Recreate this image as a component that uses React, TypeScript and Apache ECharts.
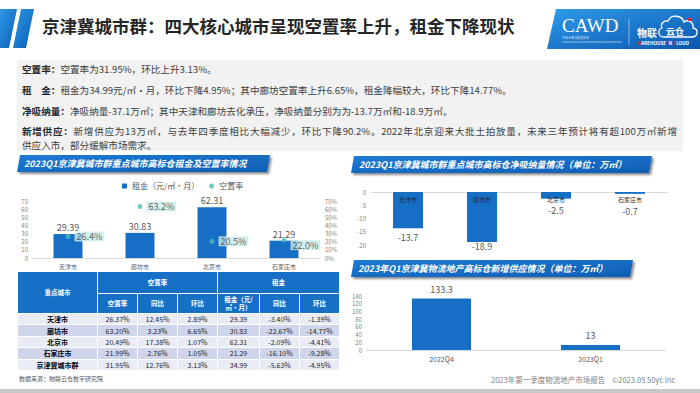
import React, { useEffect, useRef } from 'react';
import * as echarts from 'echarts';

const FONT = '"Noto Sans CJK SC", "Noto Sans", sans-serif';

// ---------- data ----------
const cities = ['天津市', '廊坊市', '北京市', '石家庄市'];
const rent = [29.39, 30.83, 62.31, 21.29];
const vacancy = [26.4, 63.2, 20.5, 22.0];
const netAbsorption = [-13.7, -18.9, -2.5, -0.7];
const supplyQuarters = ['2022Q4', '2023Q1'];
const newSupply = [133.3, 13];

const tableCities = ['天津市', '廊坊市', '北京市', '石家庄市', '京津冀城市群'];
const tableVacancy = ['26.37%', '63.20%', '20.49%', '21.99%', '31.95%'];
const tableVacancyYoY = ['12.45%', '3.23%', '17.38%', '2.76%', '12.76%'];
const tableVacancyQoQ = ['2.89%', '6.65%', '1.07%', '1.05%', '3.13%'];
const tableRent = ['29.39', '30.83', '62.31', '21.29', '34.99'];
const tableRentYoY = ['-3.40%', '-22.67%', '-2.09%', '-16.10%', '-5.63%'];
const tableRentQoQ = ['-1.39%', '-14.77%', '-4.41%', '-9.28%', '-4.95%'];
const tableGroupHeaders = ['空置率', '租金'];
const tableSubHeaders = ['空置率', '同比', '环比', '租金（元/\n㎡·月）', '同比', '环比'];

const summaryLines = [
  { label: '空置率：', text: '空置率为31.95%，环比上升3.13%。' },
  { label: '租　金：', text: '租金为34.99元/㎡·月，环比下降4.95%；其中廊坊空置率上升6.65%，租金降幅较大，环比下降14.77%。' },
  { label: '净吸纳量：', text: '净吸纳量-37.1万㎡；其中天津和廊坊去化承压，净吸纳量分别为为-13.7万㎡和-18.9万㎡。' },
  { label: '新增供应：', text: '新增供应为13万㎡，与去年四季度相比大幅减少，环比下降90.2%。2022年北京迎来大批土拍放量，未来三年预计将有超100万㎡新增' },
  { label: '', text: '供应入市，部分缓解市场需求。' },
];

const BLUE = '#166fc5';

const cloudD =
  'M664 37 L692 37 C698 37 699 29 693 28 C694 22 688 19 684 22 C682 15 671 14 668 21 C663 20 660 25 662 28 C657 30 658 37 664 37 Z';
echarts.graphic.registerShape('cloud', echarts.graphic.extendPath(cloudD, {}));

const grad = (c1: string, c2: string) => ({
  type: 'linear', x: 0, y: 0, x2: 1, y2: 1,
  colorStops: [{ offset: 0, color: c1 }, { offset: 1, color: c2 }],
});

const banner = (pts: number[][], tx: number, ty: number, text: string) => [
  {
    type: 'polygon',
    shape: { points: pts },
    style: {
      fill: grad('#1d7ad4', '#0f5fb4'),
      shadowBlur: 2, shadowOffsetX: 2, shadowOffsetY: 2, shadowColor: 'rgba(0,0,0,0.45)',
    },
  },
  {
    type: 'text', x: tx, y: ty,
    style: {
      text, fill: '#fff', fontSize: 9, fontWeight: 'bold', fontStyle: 'italic',
      fontFamily: FONT, verticalAlign: 'middle',
    },
  },
];

const axisLabelSmall = { fontSize: 6, color: '#7f7f7f', fontFamily: FONT };

const baseGraphic: any[] = [
  // header stripes
  { type: 'polygon', shape: { points: [[0, 9], [17, 9], [9, 48], [0, 48]] }, style: { fill: grad('#2d98e8', '#0b5db3') } },
  { type: 'polygon', shape: { points: [[21, 9], [34, 9], [26, 48], [13, 48]] }, style: { fill: grad('#2d98e8', '#0b5db3') } },
  {
    type: 'text', x: 42, y: 25,
    style: {
      text: '京津冀城市群：四大核心城市呈现空置率上升，租金下降现状',
      fontSize: 17.5, fontWeight: 'bold', fill: '#262626', fontFamily: FONT, verticalAlign: 'middle',
    },
  },
  // logo
  { type: 'polygon', shape: { points: [[556, 9], [700, 9], [700, 49], [547, 49]] }, style: { fill: grad('#2f9aea', '#0a58ae') } },
  {
    type: 'text', x: 562, y: 25,
    style: { text: 'CAWD', fontSize: 19, fill: '#fff', fontFamily: '"Liberation Serif", serif', verticalAlign: 'middle' },
  },
  { type: 'text', x: 562, y: 38, style: { text: '中国仓储与配送协会', fontSize: 3, fill: 'rgba(255,255,255,0.85)', fontFamily: FONT, verticalAlign: 'middle' } },
  { type: 'text', x: 562, y: 41.5, style: { text: 'CHINA ASSOCIATION OF WAREHOUSES AND DISTRIBUTION', fontSize: 2.2, fill: 'rgba(255,255,255,0.8)', fontFamily: FONT, verticalAlign: 'middle' } },
  { type: 'line', shape: { x1: 629, y1: 19, x2: 629, y2: 45 }, style: { stroke: 'rgba(255,255,255,0.6)', lineWidth: 0.8 } },
  { type: 'cloud', x: 0, y: 0, style: { fill: 'none', stroke: '#fff', lineWidth: 1.3 } },
  { type: 'rect', shape: { x: 688, y: 18, width: 3, height: 3 }, style: { fill: '#e0282f' } },
  { type: 'text', x: 637, y: 32, style: { text: '物联', fontSize: 10, fontWeight: 'bold', fill: '#fff', fontFamily: FONT, verticalAlign: 'middle' } },
  { type: 'text', x: 666, y: 31, style: { text: '云仓', fontSize: 9, fontWeight: 'bold', fill: '#fff', fontFamily: FONT, verticalAlign: 'middle' } },
  {
    type: 'text', x: 637, y: 42.5,
    style: {
      text: '{r|W}AREHOUSE {r|I}N {r|C}LOUD', fontSize: 4.6, fontWeight: 'bold', fill: '#fff',
      fontFamily: FONT, verticalAlign: 'middle',
      rich: { r: { fill: '#e0282f', fontSize: 4.6, fontWeight: 'bold', fontFamily: FONT } },
    },
  },
  // banners
  ...banner([[20, 155], [270, 155], [267, 172], [17, 172]], 24, 163.5, '2023Q1京津冀城市群重点城市高标仓租金及空置率情况'),
  ...banner([[354, 156], [652, 156], [649, 173], [351, 173]], 359, 164.5, '2023Q1京津冀城市群重点城市高标仓净吸纳量情况（单位：万㎡）'),
  ...banner([[354, 260], [633, 260], [630, 277], [351, 277]], 358, 268.5, '2023年Q1京津冀物流地产高标仓新增供应情况（单位：万㎡）'),
  // footnotes
  { type: 'text', x: 19, y: 378, style: { text: '数据来源：物联云仓数字研究院', fontSize: 6, fill: '#595959', fontFamily: FONT, verticalAlign: 'middle' } },
  { type: 'text', x: 491, y: 379, style: { text: '2023年第一季度物流地产市场报告', fontSize: 7.5, fill: '#7f7f7f', fontFamily: FONT, verticalAlign: 'middle' } },
  { type: 'text', x: 612, y: 379, style: { text: '©2023.05 50yc Inc', fontSize: 7.5, fill: '#7f7f7f', fontFamily: FONT, verticalAlign: 'middle' } },
  { type: 'rect', shape: { x: 0, y: 389, width: 700, height: 4 }, style: { fill: '#c8c8c8' } },
];

const option: any = {
  animation: false,
  textStyle: { fontFamily: FONT },
  legend: {
    left: 122, top: 182, itemWidth: 5, itemHeight: 5, itemGap: 10, padding: 0,
    textStyle: { fontSize: 8, color: '#595959', fontFamily: FONT },
    data: [{ name: '租金（元/㎡·月）', icon: 'rect' }, { name: '空置率', icon: 'circle' }],
  },
  grid: [
    { left: 32, top: 201, width: 288, height: 57 },
    { left: 371, top: 192, width: 296, height: 53 },
    { left: 367, top: 296, width: 298, height: 54 },
  ],
  xAxis: [
    {
      type: 'category', gridIndex: 0, data: cities,
      axisLine: { lineStyle: { color: '#d9d9d9' } }, axisTick: { show: false },
      axisLabel: { fontSize: 6, color: '#595959', margin: 5 },
    },
    {
      type: 'category', gridIndex: 1, data: cities, position: 'top',
      axisLine: { onZero: false, lineStyle: { color: '#d9d9d9' } }, axisTick: { show: false },
      axisLabel: { show: false },
    },
    {
      type: 'category', gridIndex: 2, data: supplyQuarters,
      axisLine: { lineStyle: { color: '#d9d9d9' } }, axisTick: { show: false },
      axisLabel: { fontSize: 7, color: '#595959', margin: 5 },
    },
  ],
  yAxis: [
    {
      type: 'value', gridIndex: 0, min: 0, max: 70, interval: 10,
      splitLine: { show: false }, axisLine: { show: false }, axisTick: { show: false },
      axisLabel: { ...axisLabelSmall, margin: 4 },
    },
    {
      type: 'value', gridIndex: 0, min: 0, max: 70, interval: 10, position: 'right',
      splitLine: { show: false }, axisLine: { show: false }, axisTick: { show: false },
      axisLabel: { ...axisLabelSmall, margin: 5, formatter: '{value}%' },
    },
    {
      type: 'value', gridIndex: 1, min: -20, max: 0, interval: 5,
      splitLine: { show: false }, axisLine: { show: false }, axisTick: { show: false },
      axisLabel: { ...axisLabelSmall, margin: 5 },
    },
    {
      type: 'value', gridIndex: 2, min: 0, max: 140, interval: 20,
      splitLine: { show: false }, axisLine: { show: false }, axisTick: { show: false },
      axisLabel: { ...axisLabelSmall, margin: 5 },
    },
  ],
  series: [
    {
      name: '租金（元/㎡·月）', type: 'bar', xAxisIndex: 0, yAxisIndex: 0, barWidth: 29,
      itemStyle: { color: BLUE }, data: rent,
      label: { show: true, position: 'top', distance: 2, fontSize: 9, color: '#595959' },
    },
    {
      name: '空置率', type: 'scatter', xAxisIndex: 0, yAxisIndex: 1, symbolSize: 5,
      itemStyle: { color: '#4bbdbb' }, z: 5,
      data: vacancy.map((v, i) => (i === 3 ? { value: v, label: { offset: [0, 5] } } : v)),
      label: {
        show: true, position: 'right', distance: 4, fontSize: 9, color: '#404040',
        backgroundColor: '#c9ebe9', padding: [1, 2, 0, 2],
        formatter: (p: any) => Number(p.value).toFixed(1) + '%',
      },
    },
    {
      name: 'net', type: 'bar', xAxisIndex: 1, yAxisIndex: 2, barWidth: 30,
      itemStyle: { color: BLUE },
      data: netAbsorption.map((v, i) =>
        i === 1 ? { value: v, label: { distance: 0 } }
          : i === 2 ? { value: v, label: { distance: 7 } }
          : i === 3 ? { value: v, label: { distance: 13 } } : v
      ),
      label: { show: true, position: 'bottom', distance: 5, fontSize: 9, color: '#595959' },
    },
    {
      name: 'supply', type: 'bar', xAxisIndex: 2, yAxisIndex: 3, barWidth: 59,
      itemStyle: { color: BLUE }, data: newSupply,
      label: { show: true, position: 'top', distance: 5, fontSize: 9, color: '#595959' },
    },
  ],
  graphic: baseGraphic,
};

// table geometry
const colX = [18, 98, 138, 178, 218, 260, 300, 340];
const rowY = [272, 294, 314, 325.4, 336.8, 348.2, 359.6, 371];

function Cell(props: { x0: number; x1: number; y0: number; y1: number; bg: string; children?: any; style?: any }) {
  const { x0, x1, y0, y1, bg, children, style } = props;
  return (
    <div
      style={{
        position: 'absolute', left: x0, top: y0, width: x1 - x0, height: y1 - y0,
        boxSizing: 'border-box', borderRight: '1px solid #fff', borderBottom: '1px solid #fff',
        background: bg, display: 'flex', alignItems: 'center', justifyContent: 'center',
        textAlign: 'center', whiteSpace: 'pre', lineHeight: 1.15, ...style,
      }}
    >
      {children}
    </div>
  );
}

function Table() {
  const HB = '#1570c6';
  const head = { color: '#fff', fontWeight: 'bold', fontSize: 6.5 };
  const cells: any[] = [];
  cells.push(<Cell key="h0" x0={colX[0]} x1={colX[1]} y0={rowY[0]} y1={rowY[2]} bg={HB} style={head}>重点城市</Cell>);
  cells.push(<Cell key="h1" x0={colX[1]} x1={colX[4]} y0={rowY[0]} y1={rowY[1]} bg={HB} style={head}>{tableGroupHeaders[0]}</Cell>);
  cells.push(<Cell key="h2" x0={colX[4]} x1={colX[7]} y0={rowY[0]} y1={rowY[1]} bg={HB} style={head}>{tableGroupHeaders[1]}</Cell>);
  tableSubHeaders.forEach((t, i) => {
    cells.push(<Cell key={'s' + i} x0={colX[i + 1]} x1={colX[i + 2]} y0={rowY[1]} y1={rowY[2]} bg={HB} style={head}>{t}</Cell>);
  });
  const cols = [tableCities, tableVacancy, tableVacancyYoY, tableVacancyQoQ, tableRent, tableRentYoY, tableRentQoQ];
  tableCities.forEach((_, r) => {
    const bg = r % 2 === 0 ? '#e9ebf5' : '#cfd5ea';
    cols.forEach((col, c) => {
      cells.push(
        <Cell key={`d${r}-${c}`} x0={colX[c]} x1={colX[c + 1]} y0={rowY[r + 2]} y1={rowY[r + 3]} bg={bg}
          style={{ fontSize: 7, color: c === 0 ? '#000' : '#262626', fontWeight: c === 0 ? 'bold' : 'normal' }}>
          {col[r]}
        </Cell>
      );
    });
  });
  return <>{cells}</>;
}

function Summary() {
  const tops = [62, 83, 103.5, 124, 138];
  return (
    <>
      <div style={{ position: 'absolute', left: 17, top: 60, width: 666, height: 91, background: '#f2f2f2' }} />
      {summaryLines.map((l, i) => (
        <div
          key={i}
          style={{
            position: 'absolute', left: 22, top: tops[i], height: 14, lineHeight: '14px', fontSize: 9.6,
            whiteSpace: 'nowrap', color: '#404040',
            ...(i === 3 ? { width: 655, textAlign: 'justify', textAlignLast: 'justify', whiteSpace: 'normal' } : {}),
          }}
        >
          {l.label && <span style={{ fontWeight: 'bold', color: '#262626' }}>{l.label}</span>}
          {l.text}
        </div>
      ))}
    </>
  );
}

export default function App() {
  const ref = useRef<HTMLDivElement>(null);
  useEffect(() => {
    const chart = echarts.init(ref.current!, null, { renderer: 'svg' });
    chart.setOption(option);
    // category names of the net-absorption chart, placed just under its zero line
    const catLabels = cities.map((c) => {
      const p = chart.convertToPixel({ xAxisIndex: 1, yAxisIndex: 2 } as any, [c, 0]) as number[];
      return {
        type: 'text', x: p[0], y: p[1] + 4, z: 100,
        style: { text: c, fontSize: 6, fill: '#262626', fontFamily: FONT, align: 'center', verticalAlign: 'top' },
      };
    });
    chart.setOption({ graphic: [...baseGraphic, ...catLabels] });
    return () => chart.dispose();
  }, []);
  return (
    <div style={{ position: 'absolute', left: 0, top: 0, width: 700, height: 393, background: '#fff', overflow: 'hidden', fontFamily: FONT }}>
      <div ref={ref} style={{ position: 'absolute', left: 0, top: 0, width: 700, height: 393 }} />
      <Summary />
      <Table />
    </div>
  );
}
